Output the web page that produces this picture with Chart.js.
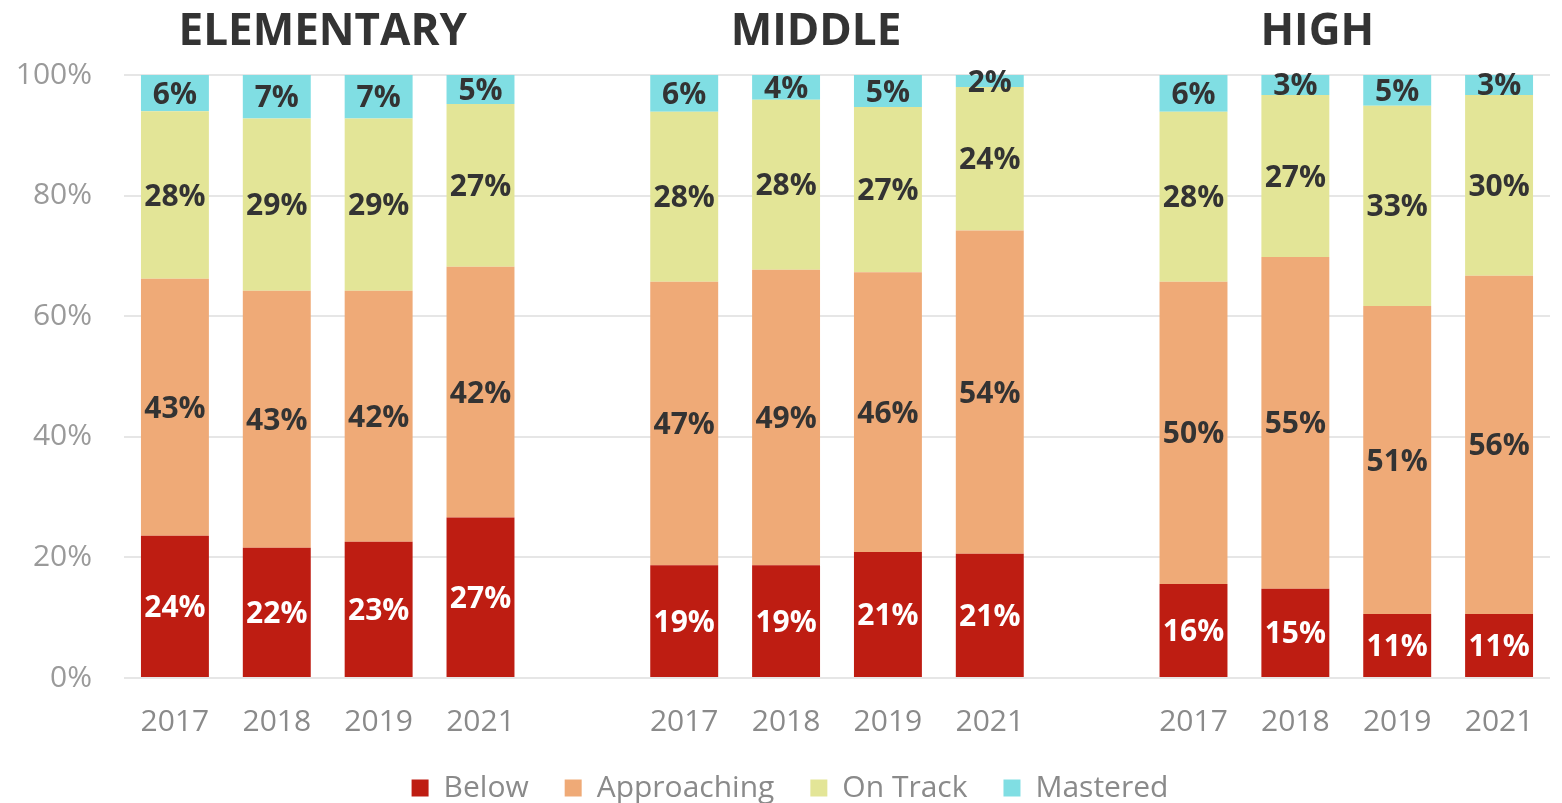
<!DOCTYPE html>
<html>
<head>
    <title>Performance Levels by School Level</title>
    <script src="https://cdn.jsdelivr.net/npm/chart.js"></script>
    <style>
        body { margin: 0; background: #fff; overflow: hidden; }
        .chart-container { width: 1562px; height: 803px; }
    </style>
</head>
<body>
    <div class="chart-container">
        <canvas id="levelsChart"></canvas>
    </div>

    <script>
        // categories: 3 groups of 4 years, with an empty slot between groups
        const years = ['2017', '2018', '2019', '2021', '', '2017', '2018', '2019', '2021', '', '2017', '2018', '2019', '2021'];
        const groupTitles = ['ELEMENTARY', 'MIDDLE', 'HIGH'];
        const yTicks = [0, 20, 40, 60, 80, 100];

        // percentages per bar (null = spacer slot)
        const below       = [23.6, 21.6, 22.6, 26.6, null, 18.7, 18.7, 20.9, 20.6, null, 15.6, 14.8, 10.6, 10.6];
        const approaching = [42.6, 42.6, 41.6, 41.6, null, 47.0, 49.0, 46.4, 53.6, null, 50.1, 55.0, 51.1, 56.1];
        const onTrack     = [27.8, 28.6, 28.6, 27.0, null, 28.2, 28.2, 27.4, 23.8, null, 28.2, 26.9, 33.2, 30.0];
        const mastered    = [ 6.0,  7.2,  7.2,  4.8, null,  6.1,  4.1,  5.3,  2.0, null,  6.1,  3.3,  5.1,  3.3];

        Chart.defaults.font.family = "'Open Sans', sans-serif";

        // group titles above each block of bars
        const groupTitlePlugin = {
            id: 'groupTitles',
            afterDraw(chart, args, opts) {
                const ctx = chart.ctx;
                const x = chart.scales.x;
                ctx.save();
                ctx.font = 'bold 44px "Open Sans", sans-serif';
                ctx.fillStyle = '#333';
                ctx.textAlign = 'center';
                ctx.textBaseline = 'middle';
                groupTitles.forEach((t, g) => {
                    const first = g * 5;
                    const cx = (x.getPixelForTick(first) + x.getPixelForTick(first + 3)) / 2 + opts.shift[g];
                    ctx.fillText(t, cx, 32);
                });
                ctx.restore();
            }
        };

        // percentage labels in the middle of each segment
        const segmentLabelPlugin = {
            id: 'segmentLabels',
            afterDatasetsDraw(chart) {
                const ctx = chart.ctx;
                ctx.save();
                ctx.font = 'bold 30px "Open Sans", sans-serif';
                ctx.textAlign = 'center';
                ctx.textBaseline = 'middle';
                chart.data.datasets.forEach((ds, i) => {
                    const meta = chart.getDatasetMeta(i);
                    ctx.fillStyle = i === 0 ? '#fff' : '#333';
                    meta.data.forEach((bar, j) => {
                        const v = ds.data[j];
                        if (v == null) return;
                        ctx.fillText(Math.round(v) + '%', bar.x, (bar.y + bar.base) / 2 + 2);
                    });
                });
                ctx.restore();
            }
        };

        // nudge the legend a little to the right, like the original
        const legendShiftPlugin = {
            id: 'legendShift',
            afterLayout(chart) {
                chart.legend.left += 15;
                chart.legend.right += 15;
            }
        };

        const ctx = document.getElementById('levelsChart').getContext('2d');
        new Chart(ctx, {
            type: 'bar',
            data: {
                labels: years,
                datasets: [
                    { label: 'Below', data: below, backgroundColor: '#be1d12' },
                    { label: 'Approaching', data: approaching, backgroundColor: '#efaa77' },
                    { label: 'On Track', data: onTrack, backgroundColor: '#e3e597' },
                    { label: 'Mastered', data: mastered, backgroundColor: '#80dee3' }
                ]
            },
            options: {
                responsive: true,
                maintainAspectRatio: false,
                animation: false,
                layout: { padding: { top: 75, left: 0, right: 12, bottom: -10 } },
                datasets: { bar: { categoryPercentage: 1, barPercentage: 0.667 } },
                plugins: {
                    groupTitles: { shift: [-5, -21, -29] },
                    tooltip: { enabled: false },
                    legend: {
                        position: 'bottom',
                        labels: {
                            boxWidth: 17,
                            boxHeight: 17,
                            padding: 36,
                            color: '#8a8a8a',
                            font: { size: 30 }
                        }
                    }
                },
                scales: {
                    x: {
                        stacked: true,
                        afterFit(scale) { scale.height = 59; },
                        grid: { display: false },
                        border: { display: false },
                        ticks: { color: '#8a8a8a', font: { size: 30 }, padding: 18, maxRotation: 0 }
                    },
                    y: {
                        stacked: true,
                        min: 0,
                        max: 100,
                        afterFit(scale) { scale.width = 124; },
                        afterBuildTicks(scale) { scale.ticks = yTicks.map(v => ({ value: v })); },
                        grid: { color: '#e6e6e6', lineWidth: 2, drawTicks: false },
                        border: { display: false },
                        ticks: {
                            color: '#9a9a9a',
                            font: { size: 30 },
                            padding: 32,
                            callback: v => v + '%'
                        }
                    }
                }
            },
            plugins: [groupTitlePlugin, segmentLabelPlugin, legendShiftPlugin]
        });
    </script>
</body>
</html>
